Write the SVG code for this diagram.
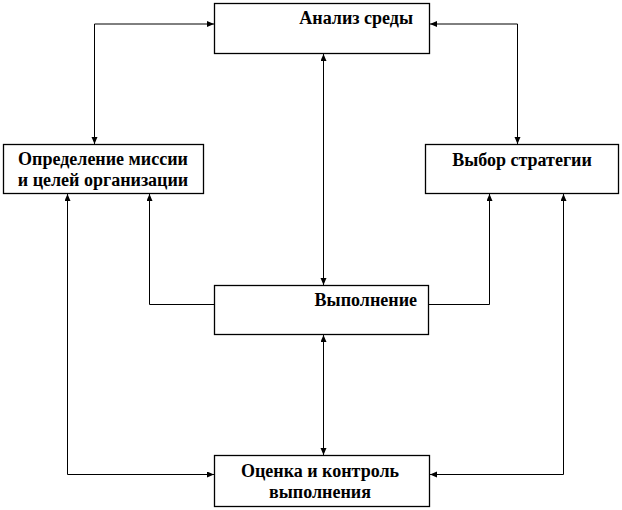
<svg xmlns="http://www.w3.org/2000/svg" width="622" height="510" viewBox="0 0 622 510">
<style>
.box{fill:#fff;stroke:#000;stroke-width:1.3}
.ln{fill:none;stroke:#000;stroke-width:1}
.t{font-family:'Liberation Serif','Times New Roman',serif;font-weight:700;font-size:18px;fill:#000}
</style>
<defs>
<marker id="ar" markerUnits="userSpaceOnUse" markerWidth="8" markerHeight="7" refX="7" refY="3" orient="auto-start-reverse">
<path d="M0,0 L7,3 L0,6 z" fill="#000"/>
</marker>
</defs>
<rect width="622" height="510" fill="#fff"/>
<g id="connectors">
<path class="ln" d="M214,24 H94.5 V144" marker-start="url(#ar)" marker-end="url(#ar)"/>
<path class="ln" d="M430,24 H517.5 V144" marker-start="url(#ar)" marker-end="url(#ar)"/>
<path class="ln" d="M323.5,54 V285" marker-start="url(#ar)" marker-end="url(#ar)"/>
<path class="ln" d="M214,304.5 H149.5 V194" marker-end="url(#ar)"/>
<path class="ln" d="M428,304.5 H489.5 V194" marker-end="url(#ar)"/>
<path class="ln" d="M323.5,335 V455" marker-start="url(#ar)" marker-end="url(#ar)"/>
<path class="ln" d="M67.5,194 V474.5 H214" marker-start="url(#ar)" marker-end="url(#ar)"/>
<path class="ln" d="M563.5,194 V474.5 H430" marker-start="url(#ar)" marker-end="url(#ar)"/>
</g>
<g id="analiz">
<rect class="box" x="214.5" y="3.5" width="215" height="50"/>
<text class="t" x="413" y="24" text-anchor="end">Анализ среды</text>
</g>
<g id="missiya">
<rect class="box" x="3.5" y="144.5" width="200" height="49"/>
<text class="t" x="103" y="165" text-anchor="middle">Определение миссии</text>
<text class="t" x="103" y="186" text-anchor="middle">и целей организации</text>
</g>
<g id="strategiya">
<rect class="box" x="425.5" y="144.5" width="193" height="49"/>
<text class="t" x="522" y="166" text-anchor="middle">Выбор стратегии</text>
</g>
<g id="vypolnenie">
<rect class="box" x="214.5" y="285.5" width="214" height="49"/>
<text class="t" x="417" y="306" text-anchor="end">Выполнение</text>
</g>
<g id="ocenka">
<rect class="box" x="214.5" y="455.5" width="215" height="51"/>
<text class="t" x="320" y="477" text-anchor="middle">Оценка и контроль</text>
<text class="t" x="320" y="498" text-anchor="middle">выполнения</text>
</g>
</svg>
